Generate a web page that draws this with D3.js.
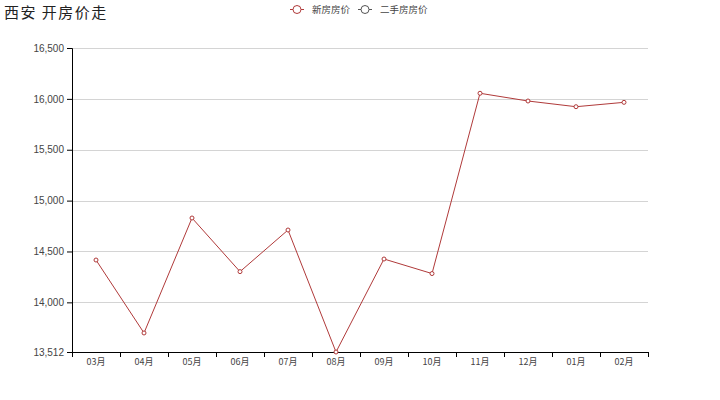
<!DOCTYPE html>
<html>
<head>
<meta charset="utf-8">
<script src="https://cdn.jsdelivr.net/npm/d3@7"></script>
<style>
  body { margin: 0; background: #fff; }
  svg { display: block; font-family: "Liberation Sans", "Noto Sans CJK SC", sans-serif; }
</style>
</head>
<body>
<script>
const w = 720;
const h = 400;

// data
const months = ["03月", "04月", "05月", "06月", "07月", "08月", "09月", "10月", "11月", "12月", "01月", "02月"];
const newPrices = [14416, 13699, 14829, 14302, 14711, 13512, 14426, 14283, 16055, 15979, 15923, 15966];
const yTicks = [13512, 14000, 14500, 15000, 15500, 16000, 16500];
const seriesNames = ["新房房价", "二手房房价"];
const seriesColors = ["#b03a3a", "#555555"];

const plotLeft = 72;
const plotRight = 648;
const plotTop = 48;
const plotBottom = 352;

const svg = d3.select("body").append("svg").attr("width", w).attr("height", h);

svg.append("text")
  .attr("x", 4)
  .attr("y", 18)
  .attr("font-family", "'Noto Sans CJK SC', sans-serif")
  .attr("font-size", 15)
  .attr("letter-spacing", 1.5)
  .attr("fill", "#222")
  .text("西安 开房价走");

const xScale = d3.scaleBand().domain(months).range([plotLeft, plotRight]);
const yScale = d3.scaleLinear().domain([13512, 16500]).range([plotBottom, plotTop]);

// gridlines
svg.append("g")
  .selectAll("line")
  .data(yTicks.slice(1))
  .enter()
  .append("line")
  .attr("x1", plotLeft)
  .attr("x2", plotRight)
  .attr("y1", d => Math.round(yScale(d)) + 0.5)
  .attr("y2", d => Math.round(yScale(d)) + 0.5)
  .attr("stroke", "#d4d4d4")
  .attr("stroke-width", 1);

const yAxis = d3.axisLeft(yScale)
  .tickValues(yTicks)
  .tickFormat(d3.format(","))
  .tickSize(5)
  .tickPadding(3);

const yg = svg.append("g")
  .attr("transform", "translate(" + plotLeft + ",0)")
  .call(yAxis);
yg.selectAll("text").attr("font-size", 10).attr("fill", "#444");
yg.selectAll("line, path").attr("stroke", "#000");

const xAxis = d3.axisBottom(xScale).tickSize(0).tickPadding(7);
const xg = svg.append("g")
  .attr("transform", "translate(0," + plotBottom + ")")
  .call(xAxis);
xg.select(".domain").attr("stroke", "#000");
xg.selectAll("text")
  .attr("font-family", "'Noto Sans CJK SC', sans-serif")
  .attr("font-size", 9)
  .attr("fill", "#444");

// ticks at band boundaries
const edges = months.map(m => xScale(m)).concat([plotRight]);
xg.selectAll(".edge")
  .data(edges)
  .enter()
  .append("line")
  .attr("class", "edge")
  .attr("x1", d => d + 0.5)
  .attr("x2", d => d + 0.5)
  .attr("y1", 0)
  .attr("y2", 5)
  .attr("stroke", "#000");

const line = d3.line()
  .x((d, i) => xScale(months[i]) + xScale.bandwidth() / 2)
  .y(d => yScale(d));

svg.append("path")
  .datum(newPrices)
  .attr("d", line)
  .attr("fill", "none")
  .attr("stroke", seriesColors[0])
  .attr("stroke-width", 1);

svg.append("g")
  .selectAll("circle")
  .data(newPrices)
  .enter()
  .append("circle")
  .attr("cx", (d, i) => xScale(months[i]) + xScale.bandwidth() / 2)
  .attr("cy", d => yScale(d))
  .attr("r", 2)
  .attr("fill", "#fff")
  .attr("stroke", seriesColors[0])
  .attr("stroke-width", 1);

// legend
const legend = svg.append("g")
  .selectAll("g")
  .data(seriesNames)
  .enter()
  .append("g")
  .attr("transform", (d, i) => "translate(" + (i === 0 ? 290 : 358) + ",9)");

legend.append("line")
  .attr("x1", 0)
  .attr("x2", 14)
  .attr("y1", 0.5)
  .attr("y2", 0.5)
  .attr("stroke", (d, i) => seriesColors[i]);
legend.append("circle")
  .attr("cx", 7)
  .attr("cy", 0.5)
  .attr("r", 4)
  .attr("fill", "#fff")
  .attr("stroke", (d, i) => seriesColors[i]);
legend.append("text")
  .attr("x", 22)
  .attr("y", 3.5)
  .attr("font-family", "'Noto Sans CJK SC', sans-serif")
  .attr("font-size", 9.5)
  .attr("fill", "#444")
  .text(d => d);
</script>
</body>
</html>
